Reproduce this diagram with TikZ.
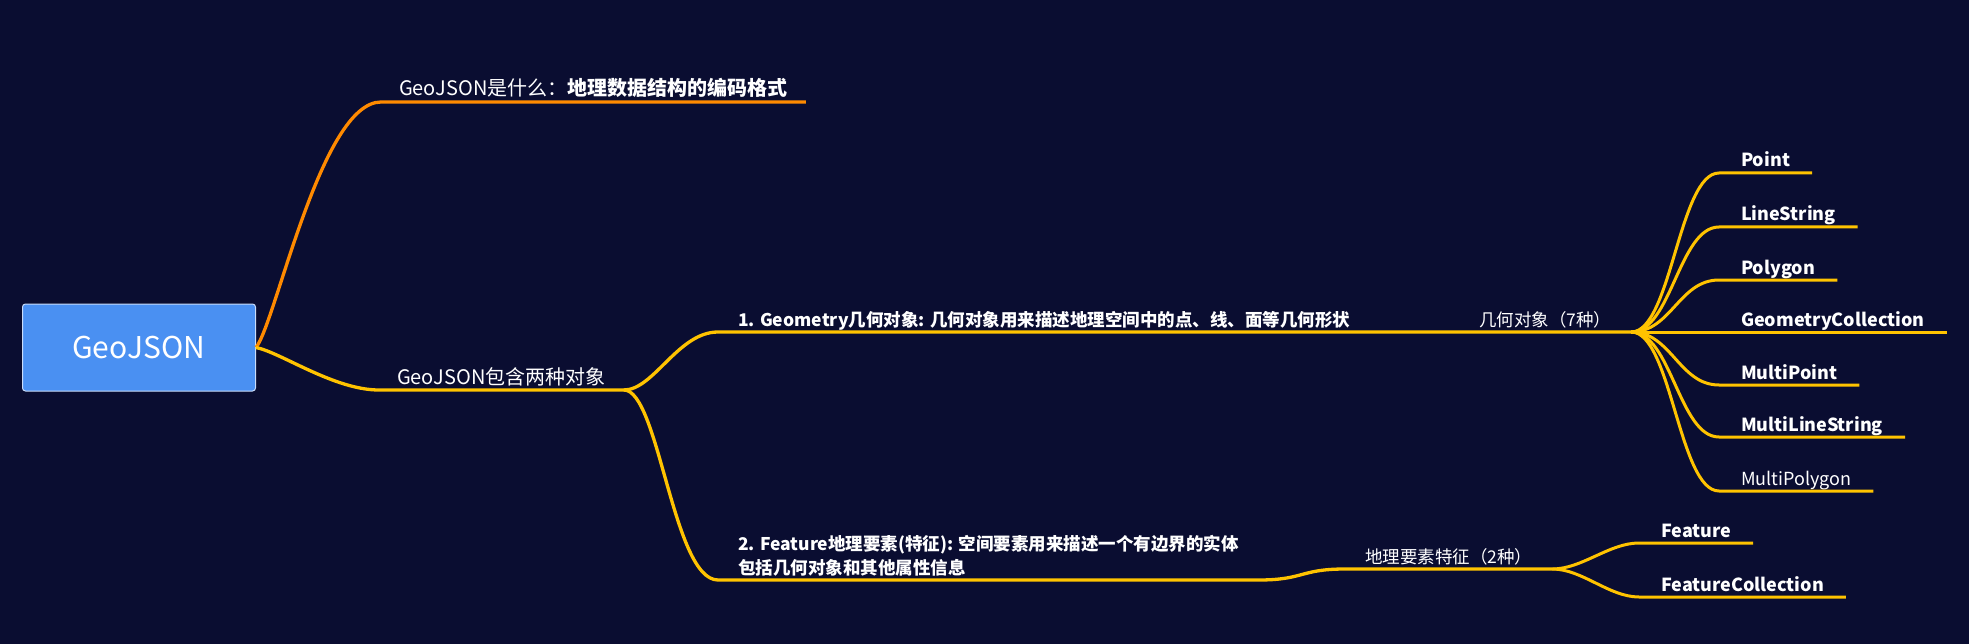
\documentclass[tikz,border=0pt]{standalone}
\usepackage{fontspec}
\setmainfont{Noto Sans CJK SC}

\definecolor{bgcol}{HTML}{0A0D31}
\definecolor{rootblue}{HTML}{4A90F2}
\definecolor{rootedge}{HTML}{C9DCFA}
\definecolor{branchorange}{HTML}{FF8A00}
\definecolor{branchyellow}{HTML}{FFC300}

\tikzset{
  rootbox/.style={fill=rootblue, draw=rootedge, line width=1pt, rounded corners=3pt,
    text=white, font=\fontsize{30}{36}\selectfont, minimum width=233pt,
    minimum height=87pt, inner sep=0pt},
  label/.style={text=white, anchor=south west, outer sep=0pt, inner ysep=6pt, text depth=0pt},
  lvlone/.style={label, inner xsep=18pt, font=\fontsize{20}{24}\selectfont},
  lvltwo/.style={label, inner xsep=20pt, font=\fontsize{17.5}{24}\selectfont\bfseries},
  lvlthree/.style={label, inner xsep=20pt, font=\fontsize{17.5}{22}\selectfont},
  leaf/.style={label, inner xsep=22pt, font=\fontsize{18}{22}\selectfont\bfseries},
  oline/.style={draw=branchorange, line width=3.3pt},
  yline/.style={draw=branchyellow, line width=3.3pt},
  leafline/.style={draw=branchyellow, line width=3pt}
}

\begin{document}
\begin{tikzpicture}[x=1pt, y=-1pt]

    % Background
    \fill[bgcol] (0,0) rectangle (1969,644);
    \useasboundingbox (0,0) rectangle (1969,644);

    % Root
    \node[rootbox] (root) at (139,347.5) {GeoJSON};

    % First level
    \node[lvlone] (what) at (381,102) {GeoJSON是什么：\textbf{地理数据结构的编码格式}};
    \node[lvlone] (contain) at (379,390) {GeoJSON包含两种对象};

    % Second level
    \node[lvltwo] (geom) at (718,332) {1. Geometry几何对象: 几何对象用来描述地理空间中的点、线、面等几何形状};
    \node[lvltwo] (feat) at (718,580) {\vbox{\hbox{2. Feature地理要素(特征): 空间要素用来描述一个有边界的实体}\hbox{包括几何对象和其他属性信息}}};

    % Third level
    \node[lvlthree] (geomk) at (1459,332) {几何对象（7种）};
    \node[lvlthree] (featk) at (1345,569) {地理要素特征（2种）};

    % Geometry types
    \node[leaf] (point) at (1719,173) {Point};
    \node[leaf] (linestr) at (1719,227) {LineString};
    \node[leaf] (polygon) at (1719,280) {Polygon};
    \node[leaf] (geomcoll) at (1719,332) {GeometryCollection};
    \node[leaf] (mpoint) at (1719,385) {MultiPoint};
    \node[leaf] (mlinestr) at (1719,437) {MultiLineString};
    \node[leaf, font=\fontsize{18}{22}\selectfont] (mpolygon) at (1719,491) {MultiPolygon};

    % Feature types
    \node[leaf] (feature) at (1639,543) {Feature};
    \node[leaf] (featcoll) at (1639,597) {FeatureCollection};

    % Root branches
    \draw[oline] (root.east) .. controls +(20,-25) and +(-60,0) .. (what.south west) -- (what.south east);
    \draw[yline] (root.east) .. controls +(25,5) and +(-45,0) .. (contain.south west) -- (contain.south east);

    % Two kinds of objects
    \draw[yline] (contain.south east) .. controls +(30,0) and +(-40,0) .. (geom.south west)
        -- (geom.south east) -- (geomk.south west) -- (geomk.south east);
    \draw[yline] (contain.south east) .. controls +(35,0) and +(-45,0) .. (feat.south west)
        -- (feat.south east) .. controls +(45,0) and +(-45,0) .. (featk.south west) -- (featk.south east);

    % Geometry leaves
    \draw[leafline] (geomk.south east) .. controls +(40,0) and +(-40,0) .. (point.south west) -- (point.south east);
    \draw[leafline] (geomk.south east) .. controls +(40,0) and +(-40,0) .. (linestr.south west) -- (linestr.south east);
    \draw[leafline] (geomk.south east) .. controls +(40,0) and +(-40,0) .. (polygon.south west) -- (polygon.south east);
    \draw[leafline] (geomk.south east) -- (geomcoll.south west) -- (geomcoll.south east);
    \draw[leafline] (geomk.south east) .. controls +(40,0) and +(-40,0) .. (mpoint.south west) -- (mpoint.south east);
    \draw[leafline] (geomk.south east) .. controls +(40,0) and +(-40,0) .. (mlinestr.south west) -- (mlinestr.south east);
    \draw[leafline] (geomk.south east) .. controls +(40,0) and +(-40,0) .. (mpolygon.south west) -- (mpolygon.south east);

    % Feature leaves
    \draw[leafline] (featk.south east) .. controls +(30,0) and +(-30,0) .. (feature.south west) -- (feature.south east);
    \draw[leafline] (featk.south east) .. controls +(30,0) and +(-30,0) .. (featcoll.south west) -- (featcoll.south east);

\end{tikzpicture}
\end{document}
